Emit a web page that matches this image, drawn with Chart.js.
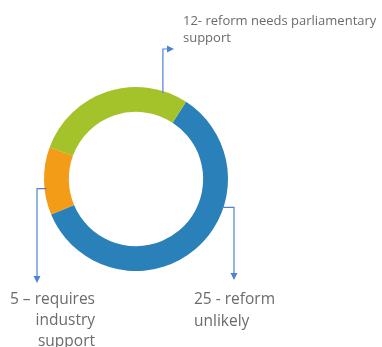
<!DOCTYPE html>
<html>
<head>
<meta charset="utf-8">
<script src="https://cdn.jsdelivr.net/npm/chart.js@4"></script>
<style>
  html, body { margin: 0; padding: 0; background: #fff; }
  #wrap { position: relative; width: 382px; height: 347px; }
</style>
</head>
<body>
<div id="wrap"><canvas id="myChart" width="382" height="347"></canvas></div>
<script>
// slices, in drawing order (clockwise)
const categories = ['reform unlikely', 'requires industry support', 'reform needs parliamentary support'];
const counts = [25, 5, 12];
const sliceColors = ['#2a80b9', '#f39c17', '#a4c32a'];

// callout text for each slice
const calloutLines = [
    ['25 - reform', 'unlikely'],
    ['5 \u2013 requires', 'industry', 'support'],
    ['12- reform needs parliamentary', 'support']
];

const LINE_COLOR = '#4f82d6';
const TEXT_COLOR = '#6b6b6b';
const FONT_TOP = '13px "Open Sans", sans-serif';
const FONT_BOTTOM = '15.5px "Open Sans", sans-serif';

// small filled arrow head at (x, y) pointing in direction dir
function arrowHead(ctx, x, y, dir) {
    ctx.beginPath();
    if (dir === 'down') {
        ctx.moveTo(x - 3.5, y - 7);
        ctx.lineTo(x + 3.5, y - 7);
        ctx.lineTo(x, y);
    } else {
        ctx.moveTo(x - 7, y - 3.5);
        ctx.lineTo(x - 7, y + 3.5);
        ctx.lineTo(x, y);
    }
    ctx.closePath();
    ctx.fill();
}

// elbow connectors + labels, attached to the arcs of the doughnut
const calloutPlugin = {
    id: 'callouts',
    afterDatasetsDraw(chart) {
        const ctx = chart.ctx;
        const arcs = chart.getDatasetMeta(0).data;
        // angle (deg, clockwise from 12 o'clock) where each connector leaves the ring
        const leaveAt = [108, 264, 17];

        const anchor = (i) => {
            const a = arcs[i];
            const rad = (leaveAt[i] - 90) * Math.PI / 180;
            return { x: a.x + Math.cos(rad) * a.outerRadius, y: a.y + Math.sin(rad) * a.outerRadius };
        };

        ctx.save();
        ctx.strokeStyle = LINE_COLOR;
        ctx.fillStyle = LINE_COLOR;
        ctx.lineWidth = 1.2;

        // 25 - blue, right then down
        let p = anchor(0);
        ctx.beginPath();
        ctx.moveTo(p.x - 2, p.y);
        ctx.lineTo(234, p.y);
        ctx.lineTo(234, 274);
        ctx.stroke();
        arrowHead(ctx, 234, 280, 'down');

        // 5 - orange, left then down
        p = anchor(1);
        ctx.beginPath();
        ctx.moveTo(p.x + 2, p.y);
        ctx.lineTo(37, p.y);
        ctx.lineTo(37, 277);
        ctx.stroke();
        arrowHead(ctx, 37, 283, 'down');

        // 12 - green, up then right
        p = anchor(2);
        ctx.beginPath();
        ctx.moveTo(p.x, p.y + 2);
        ctx.lineTo(p.x, 49);
        ctx.lineTo(168, 49);
        ctx.stroke();
        arrowHead(ctx, 174, 49, 'right');

        // labels
        ctx.fillStyle = TEXT_COLOR;
        ctx.textBaseline = 'middle';

        ctx.font = FONT_TOP;
        ctx.textAlign = 'left';
        calloutLines[2].forEach((t, k) => ctx.fillText(t, 183, 21 + k * 17));

        ctx.font = FONT_BOTTOM;
        calloutLines[0].forEach((t, k) => ctx.fillText(t, 194, 300 + k * 22));

        ctx.textAlign = 'right';
        calloutLines[1].forEach((t, k) => ctx.fillText(t, 95, 300 + k * 21));
        ctx.restore();
    }
};

const ctx = document.getElementById('myChart').getContext('2d');
new Chart(ctx, {
    type: 'doughnut',
    data: {
        labels: categories,
        datasets: [{
            data: counts,
            backgroundColor: sliceColors,
            borderWidth: 0
        }]
    },
    options: {
        responsive: false,
        animation: false,
        cutout: '73%',
        rotation: 33,
        layout: { padding: { left: 44, right: 154, top: 87, bottom: 76 } },
        plugins: {
            legend: { display: false },
            tooltip: { enabled: false }
        }
    },
    plugins: [calloutPlugin]
});
</script>
</body>
</html>
